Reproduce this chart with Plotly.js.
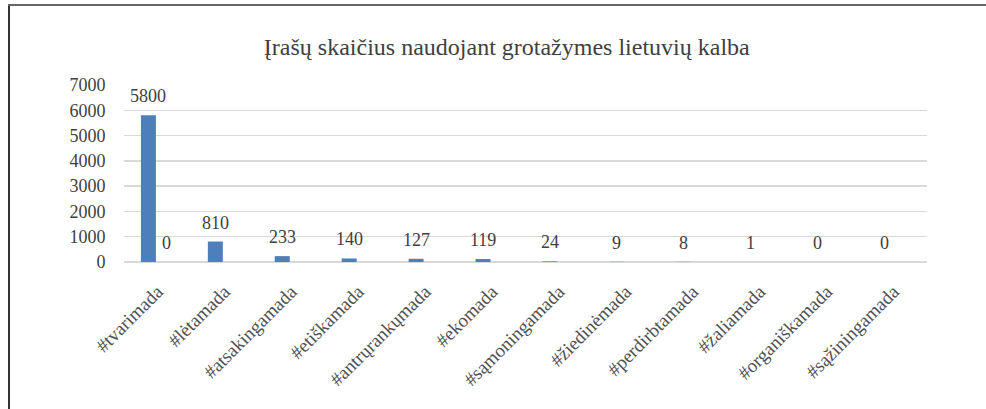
<!DOCTYPE html>
<html>
<head>
<meta charset="utf-8">
<script src="https://cdn.plot.ly/plotly-3.0.1.min.js"></script>
<style>
  html, body { margin: 0; padding: 0; background: #fff; }
  #frame { position: absolute; left: 0; top: 0; width: 986px; height: 409px; }
  #bl { position: absolute; left: 8px; top: 4px; width: 2px; height: 405px; background: #333; }
  #bt { position: absolute; left: 8px; top: 4px; width: 978px; height: 2px; background: #666; }
  #chart { position: absolute; left: 0; top: 0; width: 986px; height: 409px; }
</style>
</head>
<body>
<div id="frame">
  <div id="chart"></div>
  <div id="bl"></div>
  <div id="bt"></div>
</div>
<script>
const titleText = "Įrašų skaičius naudojant grotažymes lietuvių kalba";
const categories = ["#tvarimada", "#lėtamada", "#atsakingamada", "#etiškamada", "#antrųrankųmada", "#ekomada", "#sąmoningamada", "#žiedinėmada", "#perdirbtamada", "#žaliamada", "#organiškamada", "#sąžiningamada"];
const series1 = [5800, 810, 233, 140, 127, 119, 24, 9, 8, 1, 0, 0];
const series2 = [0, null, null, null, null, null, null, null, null, null, null, null];
const yTicks = [0, 1000, 2000, 3000, 4000, 5000, 6000, 7000];

const fontFam = "Liberation Serif, DejaVu Serif, serif";
const barColor = "#4f7fba";
const labelFont = { family: fontFam, size: 18, color: "#404040" };

const traces = [
  { type: "bar", x: categories, y: series1, name: "Series 1", marker: { color: barColor }, hoverinfo: "x+y" },
  { type: "bar", x: categories, y: series2, name: "Series 2", marker: { color: "#c0504d" }, hoverinfo: "x+y" }
];

// data labels built from the series arrays
const annotations = [];
[[series1, -9], [series2, 9]].forEach(([vals, shift]) => {
  vals.forEach((v, i) => {
    if (v === null) return;
    annotations.push({
      x: categories[i], y: v, xref: "x", yref: "y", text: String(v),
      showarrow: false, xanchor: "center", yanchor: "bottom",
      xshift: shift, yshift: 7, font: labelFont
    });
  });
});

const layout = {
  width: 986, height: 409,
  margin: { l: 124, r: 59, t: 85, b: 147 },
  paper_bgcolor: "rgba(0,0,0,0)", plot_bgcolor: "#fff",
  showlegend: false,
  barmode: "group", bargap: 0.46, bargroupgap: 0.17,
  title: {
    text: titleText, x: 0.514, xref: "container", xanchor: "center",
    y: 0.885, yref: "container", yanchor: "middle",
    font: { family: fontFam, size: 24, color: "#404040" }
  },
  annotations: annotations,
  xaxis: {
    type: "category", tickangle: -45, showgrid: false, showline: false, zeroline: false,
    ticks: "outside", ticklen: 10, tickcolor: "rgba(0,0,0,0)",
    tickfont: { family: fontFam, size: 19, color: "#505050" }
  },
  yaxis: {
    range: [0, 7000], tickvals: yTicks, ticktext: yTicks.map(String),
    showgrid: true, gridcolor: "#d9d9d9", gridwidth: 1.5,
    zeroline: true, zerolinecolor: "#d9d9d9", zerolinewidth: 1.5,
    showline: false, ticks: "outside", ticklen: 14, tickcolor: "rgba(0,0,0,0)",
    tickfont: { family: fontFam, size: 18, color: "#404040" }
  }
};

Plotly.newPlot("chart", traces, layout, { displayModeBar: false, staticPlot: true });
</script>
</body>
</html>
